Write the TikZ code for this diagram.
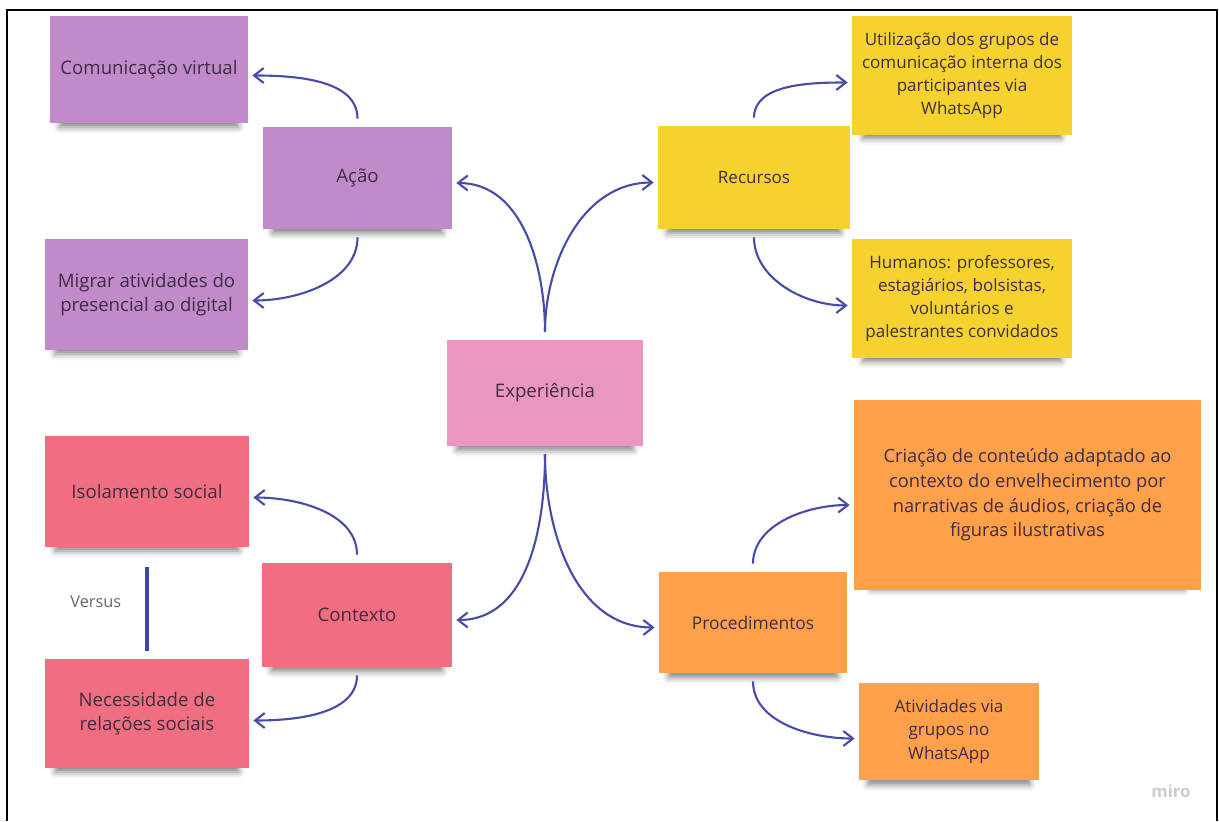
\documentclass[tikz,border=0pt]{standalone}
\usepackage{fontspec}
\setmainfont{Open Sans}
\usetikzlibrary{arrows.meta, shadows.blur}

\definecolor{roxo}{RGB}{192,138,203}
\definecolor{rosa}{RGB}{234,150,192}
\definecolor{vermelho}{RGB}{240,110,128}
\definecolor{amarelo}{RGB}{245,210,45}
\definecolor{laranja}{RGB}{255,160,75}
\definecolor{azul}{RGB}{72,76,166}
\definecolor{textonota}{RGB}{62,45,68}

\begin{document}
\begin{tikzpicture}[
  x=0.02cm, y=-0.02cm,
  nota/.style={rectangle, inner sep=2pt, align=center, text=textonota,
               font=\fontsize{10.6}{13.8}\selectfont,
               blur shadow={shadow xshift=0pt, shadow yshift=-6pt,
                            shadow blur radius=4pt, shadow opacity=50, shadow scale=0.9}},
  roxa/.style={nota, fill=roxo},
  rosa/.style={nota, fill=rosa},
  vermelha/.style={nota, fill=vermelho},
  amarela/.style={nota, fill=amarelo, font=\fontsize{9.7}{13}\selectfont},
  laranja/.style={nota, fill=laranja, font=\fontsize{9.9}{13.4}\selectfont},
  seta/.style={-{Straight Barb[length=5.5pt, width=8.5pt]}, line width=1.2pt, draw=azul,
               shorten <=0.16cm, shorten >=0.08cm}, % seta curva entre notas
  versus/.style={line width=2.2pt, draw=azul!90!blue, shorten <=0.4cm, shorten >=0.16cm},
  rotulo/.style={text=black!60, font=\fontsize{9.3}{11}\selectfont},
  moldura/.style={line width=0.04cm, draw=black}
]
\useasboundingbox (0,0) rectangle (1219,821);

% ====== MOLDURA ======
\draw[moldura] (7,821) -- (7,10) -- (1217,10) -- (1217,821);

% ====== CENTRO ======
\node[rosa, minimum width=3.92cm, minimum height=2.12cm] (experiencia) at (545,393) {Experiência};

% ====== ACAO (roxo) ======
\node[roxa, minimum width=3.78cm, minimum height=2.04cm] (acao) at (357.5,178) {Ação};
\node[roxa, minimum width=3.96cm, minimum height=2.14cm] (comunicacao) at (149,69.5) {Comunicação virtual};
\node[roxa, minimum width=4.06cm, minimum height=2.22cm] (migrar) at (146.5,294.5) {Migrar atividades do\\presencial ao digital};

% ====== CONTEXTO (vermelho) ======
\node[vermelha, minimum width=3.8cm, minimum height=2.08cm] (contexto) at (357,615) {Contexto};
\node[vermelha, minimum width=4.08cm, minimum height=2.22cm] (isolamento) at (147,491.5) {Isolamento social};
\node[vermelha, minimum width=4.08cm, minimum height=2.18cm] (necessidade) at (147,713.5) {Necessidade de\\relações sociais};

% ====== RECURSOS (amarelo) ======
\node[amarela, minimum width=3.84cm, minimum height=2.06cm] (recursos) at (754,177.5) {Recursos};
\node[amarela, minimum width=4.4cm, minimum height=2.38cm] (utilizacao) at (962,75.5) {Utilização dos grupos de\\comunicação interna dos\\participantes via\\WhatsApp};
\node[amarela, minimum width=4.4cm, minimum height=2.38cm] (humanos) at (962,298.5) {Humanos: professores,\\estagiários, bolsistas,\\voluntários e\\palestrantes convidados};

% ====== PROCEDIMENTOS (laranja) ======
\node[laranja, minimum width=3.76cm, minimum height=2.02cm] (procedimentos) at (753,622.5) {Procedimentos};
\node[laranja, minimum width=6.94cm, minimum height=3.8cm, font=\fontsize{10.4}{14}\selectfont] (criacao) at (1027.5,495) {Criação de conteúdo adaptado ao\\contexto do envelhecimento por\\narrativas de áudios, criação de\\figuras ilustrativas};
\node[laranja, minimum width=3.6cm, minimum height=1.94cm, font=\fontsize{9.7}{13.4}\selectfont] (atividades) at (949,731.5) {Atividades via\\grupos no\\WhatsApp};

% Setas a partir do centro
\draw[seta] (experiencia.north) to[out=90, in=0] ([yshift=-0.1cm]acao.east);
\draw[seta] (experiencia.north) to[out=90, in=180] ([yshift=-0.1cm]recursos.west);
\draw[seta] (experiencia.south) to[out=-90, in=0] ([yshift=-0.1cm]contexto.east);
\draw[seta] (experiencia.south) to[out=-90, in=180] ([yshift=-0.1cm]procedimentos.west);

% Setas dos ramos
\draw[seta] (acao.north) to[out=90, in=0] ([yshift=-0.12cm]comunicacao.east);
\draw[seta] (acao.south) to[out=-90, in=0] ([yshift=-0.12cm]migrar.east);
\draw[seta] (contexto.north) to[out=90, in=0] ([yshift=-0.12cm]isolamento.east);
\draw[seta] (contexto.south) to[out=-90, in=0] ([yshift=-0.14cm]necessidade.east);
\draw[seta] (recursos.north) to[out=90, in=180] ([yshift=-0.14cm]utilizacao.west);
\draw[seta] (recursos.south) to[out=-90, in=180] ([yshift=-0.14cm]humanos.west);
\draw[seta] (procedimentos.north) to[out=90, in=180] ([yshift=-0.2cm]criacao.west);
\draw[seta] (procedimentos.south) to[out=-90, in=180] ([yshift=-0.14cm]atividades.west);

% Linha "Versus"
\draw[versus] (isolamento.south) -- node[rotulo, left=0.36cm, pos=0.49] (versustxt) {Versus} (necessidade.north);

\node[text=black!20, font=\bfseries\fontsize{9.5}{10}\selectfont] (miro) at (1171,791) {miro};

\end{tikzpicture}
\end{document}
